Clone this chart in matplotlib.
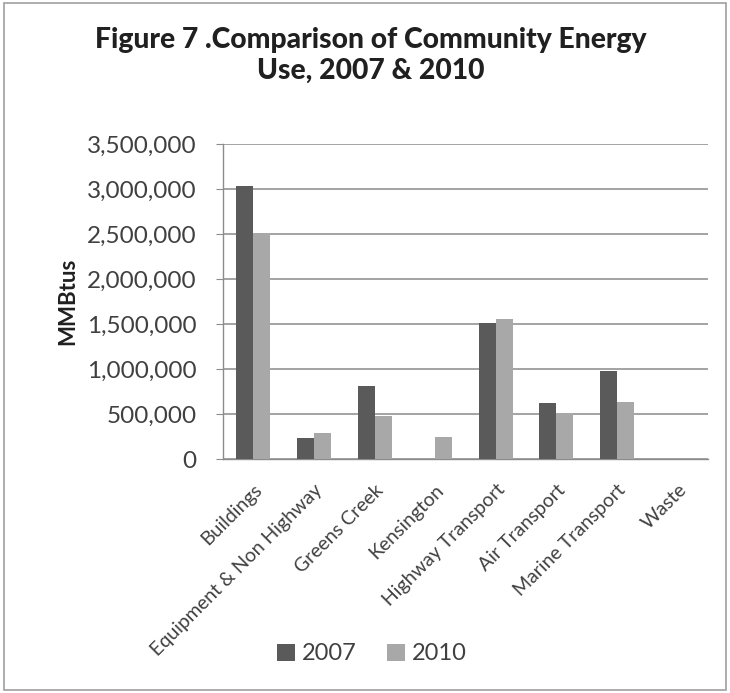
import matplotlib
matplotlib.use("Agg")
import matplotlib.pyplot as plt
import numpy as np
from matplotlib.ticker import FuncFormatter
from matplotlib.patches import Rectangle

categories = ["Buildings", "Equipment & Non Highway", "Greens Creek", "Kensington",
              "Highway Transport", "Air Transport", "Marine Transport", "Waste"]
values_2007 = [3030000, 232000, 812000, 0, 1515000, 620000, 982000, 0]
values_2010 = [2510000, 285000, 478000, 248000, 1556000, 515000, 638000, 0]
series_labels = ["2007", "2010"]
yticks = [0, 500000, 1000000, 1500000, 2000000, 2500000, 3000000, 3500000]

plt.rcParams['font.family'] = ['Lato', 'DejaVu Sans']

fig = plt.figure(figsize=(7.3, 6.93), dpi=100)
fig.patches.append(Rectangle((0.005, 0.004), 0.99, 0.991, transform=fig.transFigure,
                             fill=False, edgecolor="#a0a0a0", linewidth=1.2))
ax = fig.add_axes([223/730, 1-459/693, (708-223)/730, (459-144)/693])

x = np.arange(len(categories))
w = 0.28
ax.bar(x - w/2, values_2007, width=w, color="#5a5a5a", label=series_labels[0], zorder=3)
ax.bar(x + w/2, values_2010, width=w, color="#a8a8a8", label=series_labels[1], zorder=3)

ax.set_xlim(-0.5, len(categories) - 0.5)
ax.set_ylim(0, 3500000)
ax.set_yticks(yticks)
ax.yaxis.set_major_formatter(FuncFormatter(lambda v, p: f"{int(v):,}"))
ax.grid(axis="y", color="#939393", linewidth=1.2, zorder=0)
for s in ["top", "right"]:
    ax.spines[s].set_visible(False)
for s in ["left", "bottom"]:
    ax.spines[s].set_color("#8c8c8c")
    ax.spines[s].set_linewidth(1.0)
ax.tick_params(axis="y", length=5, color="#8c8c8c", labelsize=17.5, labelcolor="#404040", pad=14)
ax.set_xticks(x)
ax.set_xticklabels(categories, rotation=45, ha="right", rotation_mode="anchor",
                   fontsize=14, color="#404040")
ax.tick_params(axis="x", length=0, pad=16)
ax.set_ylabel("MMBtus", fontsize=16, fontweight="bold", color="#202020", labelpad=6)

fig.text(371/730, 1-40/693, "Figure 7 .Comparison of Community Energy", ha="center", va="center",
         fontsize=20.3, fontweight="black", color="#202020")
fig.text(371/730, 1-71/693, "Use, 2007 & 2010", ha="center", va="center",
         fontsize=20.3, fontweight="black", color="#202020")

fig.legend(loc="center", bbox_to_anchor=(372/730, 1-654/693), ncol=2, frameon=False,
           fontsize=17, handlelength=0.75, handleheight=0.75, handletextpad=0.3,
           columnspacing=1.3, labelcolor="#404040")

fig.savefig("out.png", dpi=100)
